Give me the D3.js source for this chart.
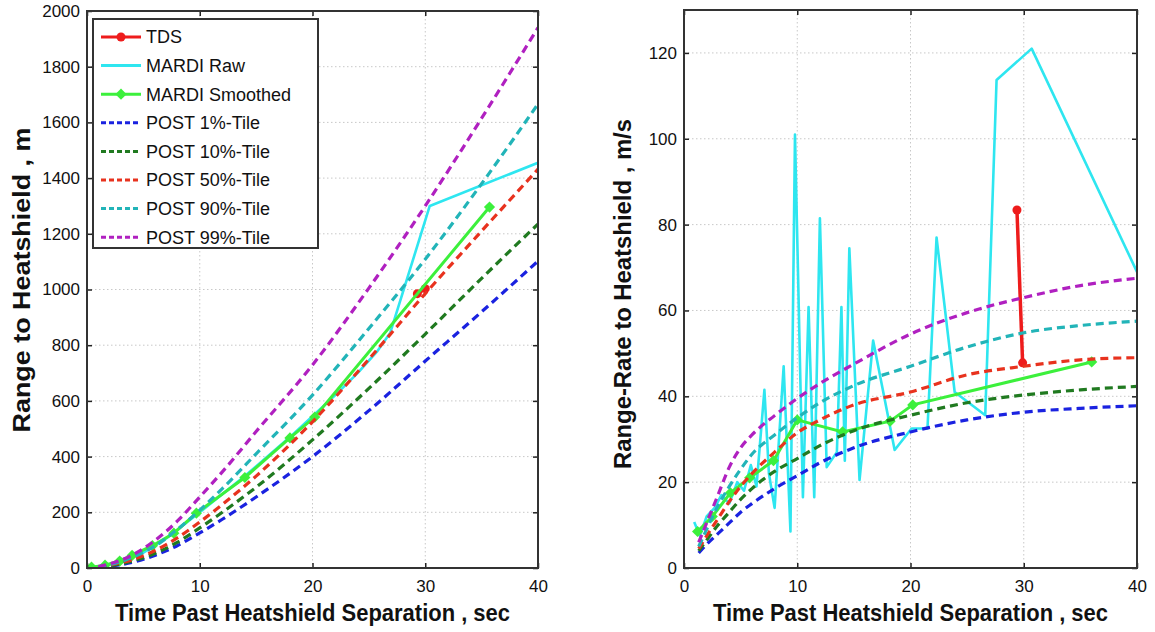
<!DOCTYPE html>
<html><head><meta charset="utf-8">
<script src="https://cdn.jsdelivr.net/npm/d3@7"></script>
<style>
body{margin:0;background:#fff;}
svg{display:block;}
.tick text{font-family:"Liberation Sans Narrow","Arial Narrow","Liberation Sans",sans-serif;font-size:17px;fill:#111;}
.title{font-family:"Liberation Sans Narrow","Arial Narrow","Liberation Sans",sans-serif;font-weight:bold;font-size:24px;fill:#111;}
.leg{font-family:"Liberation Sans",Arial,sans-serif;font-size:18px;fill:#111;}
</style></head><body>
<script>
// ---------- data ----------
const seriesNames = ["TDS","MARDI Raw","MARDI Smoothed","POST 1%-Tile","POST 10%-Tile","POST 50%-Tile","POST 90%-Tile","POST 99%-Tile"];
const seriesColors = ["#ee1c1c","#2ee6f0","#3cf03c","#1a22e0","#207a20","#e8321e","#22b4b8","#b020c0"];
const xTicks = [0,10,20,30,40];
const rangeTicks = [0,200,400,600,800,1000,1200,1400,1600,1800,2000];
const rateTicks = [0,20,40,60,80,100,120];

// Left: Range to Heatshield (m)
const rangeTdsT = [29.3,30.0];
const rangeTdsV = [985,1003];
const rangeRawT = [0.5,1.5,3,5,7,10,14,18,20,22,24,25.7,26.9,30.4,40];
const rangeRawV = [2,8,22,55,105,200,330,470,545,620,700,776,845,1300,1455];
const rangeSmT = [0.4,1.6,2.9,4,5.8,7.7,9.7,14,18,20.2,35.7];
const rangeSmV = [3,10,25,45,80,125,197,325,467,542,1296];
const rangePostT = [1,2,4,6,8,10,12,15,20,25,30,35,40];
const rangeP1  = [2,6,20,45,80,126,175,255,400,565,743,920,1102];
const rangeP10 = [3,8,25,52,92,144,200,290,460,645,840,1040,1235];
const rangeP50 = [3,10,30,62,108,165,228,330,525,750,985,1210,1432];
const rangeP90 = [4,12,38,78,138,208,285,410,621,860,1109,1380,1666];
const rangeP99 = [5,15,46,98,168,255,345,490,729,1005,1300,1615,1940];

// Right: Range-Rate to Heatshield (m/s)
const rateTdsT = [29.4,29.9];
const rateTdsV = [83.4,47.8];
const rateRawT = [0.9,1.4,2,2.7,3.3,4,4.7,5.3,5.9,6.4,7.1,7.5,8.0,8.8,9.4,9.8,10.5,11.0,11.5,12.0,12.6,13.5,13.9,14.2,14.6,15.5,16.7,18.6,20.1,21.5,22.3,23.9,26.6,27.6,30.7,40];
const rateRawV = [10.7,7.5,12,14,17,15,20,18,24,19,41.5,22,14,47,8.5,101,16.5,60.8,16.5,81.5,23.5,27,60.8,25,74.5,20.5,53,27.5,32.5,32.5,77,41,35.6,113.7,121,69];
const rateSmT = [1.2,2.5,4.1,5.8,7.9,10,14,18.2,20.2,36];
const rateSmV = [8.5,12,17.5,21,25,34.5,31.7,34.2,38,48];
const ratePostT = [1.3,2,3,4,5,6,8,10,12,15,20,25,30,35,40];
const rateP1  = [3.5,5.5,8,10.5,13,15,18.5,21.5,24.5,28,31.7,34.5,36.3,37.2,37.8];
const rateP10 = [4,6.5,10,13,16,18.5,22.5,25.5,28.5,32,35.6,38.5,40.3,41.5,42.3];
const rateP50 = [4.5,7.5,11.5,15.5,19,22,27,31.5,34.5,38,41,45,47,48.5,49];
const rateP90 = [5,9,14.5,19,23,26.5,31,35,38.5,42.5,47,51.5,54.8,56.5,57.5];
const rateP99 = [6,10.5,17,23.5,28,31,35.5,39.5,43,47.5,54.5,59.5,63,65.8,67.5];

// ---------- drawing ----------
const svg = d3.select("body").append("svg").attr("width",1155).attr("height",632);
const zip = (t,v)=>t.map((d,i)=>[d,v[i]]);

function panel(cfg){
  const x = d3.scaleLinear().domain([0,40]).range([cfg.x0,cfg.x1]);
  const y = d3.scaleLinear().domain(cfg.ydom).range([568,cfg.ytop]);
  const g = svg.append("g");
  const clipId = "clip"+cfg.id;
  svg.append("clipPath").attr("id",clipId).append("rect")
     .attr("x",cfg.x0).attr("y",cfg.ytop).attr("width",cfg.x1-cfg.x0).attr("height",568-cfg.ytop);
  // grid
  const grid = g.append("g").attr("stroke","#c8c8c8").attr("stroke-width",1).attr("stroke-dasharray","1.5,2.5");
  grid.selectAll(".gx").data(xTicks.slice(1,-1)).join("line")
     .attr("x1",d=>x(d)).attr("x2",d=>x(d)).attr("y1",cfg.ytop).attr("y2",568);
  grid.selectAll(".gy").data(cfg.yticks.filter(d=>d>cfg.ydom[0]&&d<cfg.ydom[1])).join("line")
     .attr("y1",d=>y(d)).attr("y2",d=>y(d)).attr("x1",cfg.x0).attr("x2",cfg.x1);

  const plot = g.append("g").attr("clip-path",`url(#${clipId})`);
  const line = d3.line().x(d=>x(d[0])).y(d=>y(d[1]));
  const smooth = d3.line().x(d=>x(d[0])).y(d=>y(d[1])).curve(d3.curveMonotoneX);
  // TDS
  const tds = zip(cfg.tdsT,cfg.tdsV);
  plot.append("path").datum(tds).attr("d",line).attr("fill","none").attr("stroke",seriesColors[0]).attr("stroke-width",3.5);
  plot.selectAll(".tdsm").data(tds).join("circle").attr("cx",d=>x(d[0])).attr("cy",d=>y(d[1])).attr("r",4.5).attr("fill",seriesColors[0]);
  // Raw
  plot.append("path").datum(zip(cfg.rawT,cfg.rawV)).attr("d",line).attr("fill","none")
     .attr("stroke",seriesColors[1]).attr("stroke-width",2.6).attr("stroke-linejoin","round");
  // Smoothed
  const sm = zip(cfg.smT,cfg.smV);
  plot.append("path").datum(sm).attr("d",line).attr("fill","none").attr("stroke",seriesColors[2]).attr("stroke-width",3);
  plot.selectAll(".smm").data(sm).join("path")
     .attr("transform",d=>`translate(${x(d[0])},${y(d[1])})`)
     .attr("d",d3.symbol(d3.symbolDiamond2,80)).attr("fill",seriesColors[2]);
  // POST
  cfg.post.forEach((v,i)=>{
    plot.append("path").datum(zip(cfg.postT,v)).attr("d",smooth).attr("fill","none")
      .attr("stroke",seriesColors[3+i]).attr("stroke-width",3.2).attr("stroke-dasharray","8,5");
  });

  // frame and ticks
  const ax = g.append("g");
  ax.append("g").attr("transform","translate(0,568)")
    .call(d3.axisBottom(x).tickValues(xTicks).tickSize(-5).tickPadding(12).tickFormat(d3.format("d")));
  ax.append("g").attr("transform",`translate(0,${cfg.ytop})`)
    .call(d3.axisTop(x).tickValues(xTicks).tickSize(-5).tickFormat(""));
  ax.append("g").attr("transform",`translate(${cfg.x0},0)`)
    .call(d3.axisLeft(y).tickValues(cfg.yticks).tickSize(-5).tickPadding(7).tickFormat(d3.format("d")));
  ax.append("g").attr("transform",`translate(${cfg.x1},0)`)
    .call(d3.axisRight(y).tickValues(cfg.yticks).tickSize(-5).tickFormat(""));
  ax.selectAll(".domain").remove();
  ax.selectAll(".tick line").attr("stroke","#222").attr("stroke-width",1.5);
  ax.append("rect").attr("x",cfg.x0).attr("y",cfg.ytop).attr("width",cfg.x1-cfg.x0).attr("height",568-cfg.ytop)
    .attr("fill","none").attr("stroke","#333").attr("stroke-width",2);

  svg.append("text").attr("class","title").attr("x",(cfg.x0+cfg.x1)/2).attr("y",621)
     .attr("text-anchor","middle").attr("textLength",395).attr("lengthAdjust","spacingAndGlyphs")
     .text("Time Past Heatshield Separation , sec");
  svg.append("text").attr("class","title").attr("transform",`translate(${cfg.ytx},${cfg.yty}) rotate(-90)`)
     .attr("text-anchor","middle").attr("textLength",cfg.ylen).attr("lengthAdjust","spacingAndGlyphs")
     .text(cfg.ytitle);
  return {x,y};
}

panel({id:"L",x0:87,x1:538,ytop:11,ydom:[0,2000],yticks:rangeTicks,
  tdsT:rangeTdsT,tdsV:rangeTdsV,rawT:rangeRawT,rawV:rangeRawV,smT:rangeSmT,smV:rangeSmV,
  postT:rangePostT,post:[rangeP1,rangeP10,rangeP50,rangeP90,rangeP99],
  ytitle:"Range to Heatshield , m",ytx:30,yty:280,ylen:305});
panel({id:"R",x0:684,x1:1137,ytop:10,ydom:[0,130],yticks:rateTicks,
  tdsT:rateTdsT,tdsV:rateTdsV,rawT:rateRawT,rawV:rateRawV,smT:rateSmT,smV:rateSmV,
  postT:ratePostT,post:[rateP1,rateP10,rateP50,rateP90,rateP99],
  ytitle:"Range-Rate to Heatshield , m/s",ytx:631,yty:294,ylen:350});

// legend
const lg = svg.append("g");
lg.append("rect").attr("x",93).attr("y",19).attr("width",225).attr("height",229)
  .attr("fill","#fff").attr("stroke","#333").attr("stroke-width",2);
seriesNames.forEach((n,i)=>{
  const yy = 37 + i*28.6;
  const it = lg.append("g");
  const ln = it.append("line").attr("x1",101).attr("x2",141).attr("y1",yy).attr("y2",yy)
     .attr("stroke",seriesColors[i]).attr("stroke-width",3);
  if(i>=3) ln.attr("stroke-dasharray","5,3");
  if(i===0) it.append("circle").attr("cx",121).attr("cy",yy).attr("r",4.5).attr("fill",seriesColors[i]);
  if(i===2) it.append("path").attr("transform",`translate(121,${yy})`).attr("d",d3.symbol(d3.symbolDiamond2,80)).attr("fill",seriesColors[i]);
  it.append("text").attr("class","leg").attr("x",146).attr("y",yy).attr("dy","0.36em").text(n);
});
</script>
</body></html>
